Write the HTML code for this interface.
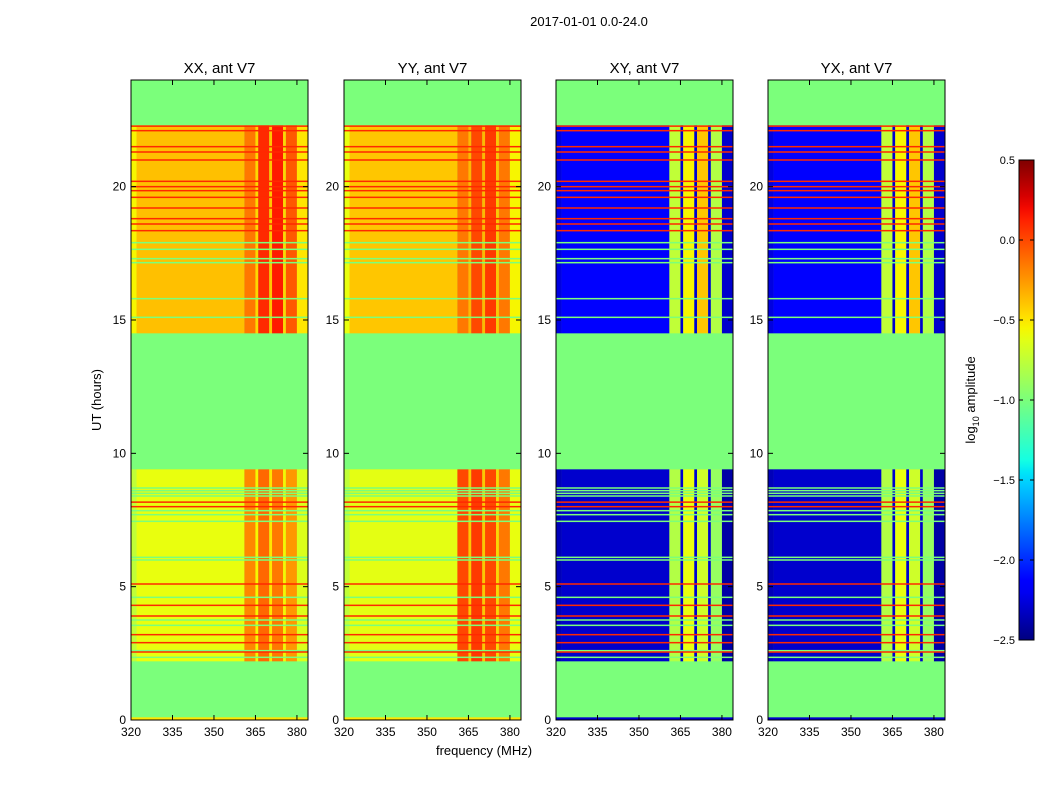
<!DOCTYPE html>
<html><head><meta charset="utf-8">
<style>
body{margin:0;background:#fff;font-family:"Liberation Sans",sans-serif;}
svg text{font-family:"Liberation Sans",sans-serif;}
</style></head>
<body>
<svg id="fig" width="1050" height="800" viewBox="0 0 1050 800" xmlns="http://www.w3.org/2000/svg">
<rect width="1050" height="800" fill="#fff"/>
<text x="589" y="26" font-size="13" text-anchor="middle">2017-01-01 0.0-24.0</text>
<text transform="translate(101,400) rotate(-90)" font-size="13" text-anchor="middle">UT (hours)</text>
<text x="484" y="755" font-size="13" text-anchor="middle">frequency (MHz)</text>
<g id="panels"></g>
<g id="cbar"></g>
<text transform="translate(975,400) rotate(-90)" font-size="13" text-anchor="middle">log<tspan font-size="9" dy="4">10</tspan><tspan dy="-4"> amplitude</tspan></text>
</svg>
<script>
const panelTitles = ["XX, ant V7","YY, ant V7","XY, ant V7","YX, ant V7"];
const freqEdges = [320,322,361,365,366,370,371,375,376,380,384];
const dataRegions = [[2.2,9.4],[14.5,22.3]];
const upperProfiles = [
  [-0.55,-0.38,-0.15,-0.45,0.1,-0.4,0.15,-0.45,-0.05,-0.5],
  [-0.6,-0.4,-0.15,-0.35,0.0,-0.35,0.05,-0.4,-0.15,-0.55],
  [-2.25,-2.15,-0.75,-2.3,-0.55,-2.3,-0.4,-2.3,-0.8,-2.3],
  [-2.25,-2.15,-0.75,-2.3,-0.55,-2.3,-0.4,-2.3,-0.8,-2.3]
];
const lowerProfiles = [
  [-0.75,-0.6,-0.2,-0.55,-0.1,-0.5,-0.15,-0.55,-0.25,-0.65],
  [-0.75,-0.62,0.0,-0.4,0.05,-0.4,0.0,-0.45,-0.15,-0.6],
  [-2.35,-2.3,-0.8,-2.3,-0.6,-2.3,-0.7,-2.3,-0.9,-2.4],
  [-2.35,-2.3,-0.8,-2.3,-0.6,-2.3,-0.7,-2.3,-0.9,-2.4]
];
const gapValue = -1.0;
const redLineTimes = [22.27,22.1,21.5,21.3,21.0,20.2,20.0,19.85,19.6,19.2,18.8,18.6,18.35,8.17,8.0,5.1,4.3,3.9,3.2,2.9,2.55];
const redLineValue = 0.1;
const greenLineTimes = [17.9,17.65,17.3,17.15,15.8,15.1,8.7,8.6,8.5,8.4,7.85,7.7,7.45,6.1,6.0,4.6,3.75,3.55,2.6,2.35];
const greenLineValue = -1.0;
const yTicks = [0,5,10,15,20];
const xTicks = [320,335,350,365,380];
const cbarTicks = [-2.5,-2.0,-1.5,-1.0,-0.5,0.0,0.5];

const NS = "http://www.w3.org/2000/svg";
const panelLefts = [131,344,556,768], PW = 177, PT = 80, PH = 640;
const vmin = -2.5, vmax = 0.5;
function interp(pts, t){
  for (let i = 0; i < pts.length-1; i++) {
    if (t <= pts[i+1][0]) { const [a,va] = pts[i], [b,vb] = pts[i+1]; return va + (vb-va)*(t-a)/(b-a); }
  }
  return pts[pts.length-1][1];
}
const RED = [[0,0],[0.35,0],[0.66,1],[0.89,1],[1,0.5]];
const GRN = [[0,0],[0.125,0],[0.375,1],[0.64,1],[0.91,0],[1,0]];
const BLU = [[0,0.5],[0.11,1],[0.34,1],[0.65,0],[1,0]];
function jet(v){
  let t = (v - vmin)/(vmax - vmin); t = Math.max(0,Math.min(1,t));
  const c = x => Math.round(255*Math.max(0,Math.min(1,x)));
  return `rgb(${c(interp(RED,t))},${c(interp(GRN,t))},${c(interp(BLU,t))})`;
}
function mk(tag, attrs, parent){ const e = document.createElementNS(NS, tag); for (const k in attrs) e.setAttribute(k, attrs[k]); parent.appendChild(e); return e; }
const yScale = h => PT + PH - h*PH/24;
const xScale = (f, L) => L + (f-320)*PW/64;
const fmt = v => (v<0?"\u2212":"")+Math.abs(v).toFixed(1);

const root = document.getElementById("panels");
panelLefts.forEach((L, p) => {
  const g = mk("g", {}, root);
  
  
  const bg = mk("rect", {x:L, y:PT, width:PW, height:PH, fill:jet(gapValue)}, g);
  
  
  const regions = [[dataRegions[0], lowerProfiles[p]], [dataRegions[1], upperProfiles[p]]];
  regions.forEach(([reg, prof]) => {
    for (let i = 0; i < prof.length; i++) {
      const x0 = xScale(freqEdges[i], L), x1 = xScale(freqEdges[i+1], L);
      const r = mk("rect", {x:x0, y:yScale(reg[1]), width:x1-x0, height:yScale(reg[0])-yScale(reg[1]), fill:jet(prof[i])}, g);
      
      
    }
  });
  const drawLines = (times, val, name, th) => times.forEach(t => {
    const r = mk("rect", {x:L, y:yScale(t)-th/2, width:PW, height:th, fill:jet(val)}, g);
    
    
  });
  drawLines(greenLineTimes, greenLineValue, 'rfi-line-low', 1.5);
  drawLines(redLineTimes, redLineValue, 'rfi-line-high', 1.5);
  const bs = mk("rect", {x:L, y:yScale(0.1), width:PW, height:yScale(0)-yScale(0.1), fill: p<2 ? jet(-0.5) : jet(-2.3)}, g);
  
  
  const fr = mk("rect", {x:L, y:PT, width:PW, height:PH, fill:"none", stroke:"#000", "stroke-width":1}, g);
  
  
  const tt = mk("text", {x:L+PW/2, y:PT-7, "font-size":15, "text-anchor":"middle"}, g);
  tt.textContent = panelTitles[p];
  
  
  yTicks.forEach(h => {
    const y = yScale(h);
    mk("line", {x1:L, x2:L+5, y1:y, y2:y, stroke:"#000"}, g);
    mk("line", {x1:L+PW-5, x2:L+PW, y1:y, y2:y, stroke:"#000"}, g);
    const t = mk("text", {x:L-5, y:y+4, "font-size":12, "text-anchor":"end"}, g);
    t.textContent = h;
    
    
  });
  xTicks.forEach(f => {
    const x = xScale(f, L);
    mk("line", {x1:x, x2:x, y1:PT+PH, y2:PT+PH-5, stroke:"#000"}, g);
    mk("line", {x1:x, x2:x, y1:PT, y2:PT+5, stroke:"#000"}, g);
    const t = mk("text", {x:x, y:PT+PH+16, "font-size":12, "text-anchor":"middle"}, g);
    t.textContent = f;
    
    
  });
});

const cb = document.getElementById("cbar");
const CX = 1019, CW = 15, CT = 160, CH = 480;
const defs = mk("defs", {}, cb);
const grad = mk("linearGradient", {id:"jetg", x1:0, y1:1, x2:0, y2:0}, defs);
for (let i = 0; i <= 40; i++) { const v = vmin + (vmax-vmin)*i/40; mk("stop", {offset:i/40, "stop-color":jet(v)}, grad); }
const cbr = mk("rect", {x:CX, y:CT, width:CW, height:CH, fill:"url(#jetg)", stroke:"#000"}, cb);


cbarTicks.forEach(v => {
  const y = CT + CH - (v - vmin)/(vmax - vmin)*CH;
  mk("line", {x1:CX+CW-4, x2:CX+CW, y1:y, y2:y, stroke:"#000"}, cb);
  mk("line", {x1:CX, x2:CX+4, y1:y, y2:y, stroke:"#000"}, cb);
  const t = mk("text", {x:CX-4, y:y+4, "font-size":11, "text-anchor":"end"}, cb);
  t.textContent = fmt(v);
  
  
});
</script>
</body></html>
